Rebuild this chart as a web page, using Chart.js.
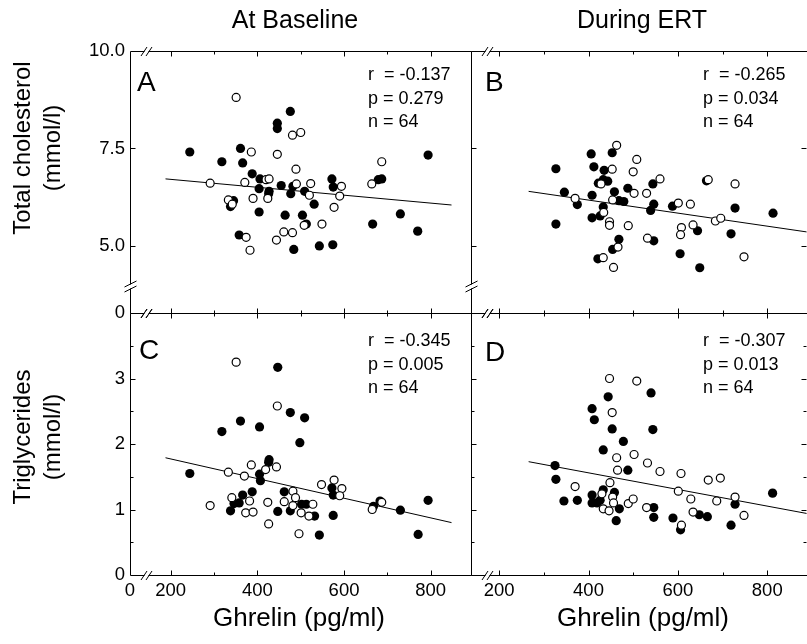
<!DOCTYPE html>
<html>
<head>
<meta charset="utf-8">
<script src="https://cdn.jsdelivr.net/npm/chart.js@4.4.1/dist/chart.umd.min.js"></script>
<style>
body { margin: 0; background: #fff; }
#wrap { position: relative; width: 807px; height: 644px; overflow: hidden;
        font-family: 'Liberation Sans', Arial, sans-serif; color: #000; }
canvas { position: absolute; left: 0; top: 0; }
.t { position: absolute; white-space: pre; line-height: 1; }
.head { font-size: 25px; width: 240px; text-align: center; }
.xtitle { font-size: 26px; width: 240px; text-align: center; }
.ytitle { font-size: 24px; width: 300px; height: 60px; line-height: 30px; text-align: center;
          transform: rotate(-90deg); transform-origin: 150px 30px; }
.stat { font-size: 18px; line-height: 23.5px; }
.letter { font-size: 28px; }
</style>
</head>
<body>
<div id="wrap">
  <canvas id="pA" width="807" height="644"></canvas>
  <canvas id="pB" width="807" height="644"></canvas>
  <canvas id="pC" width="807" height="644"></canvas>
  <canvas id="pD" width="807" height="644"></canvas>

  <div class="t head" style="left:175px; top:7px;">At Baseline</div>
  <div class="t head" style="left:522px; top:7px;">During ERT</div>
  <div class="t xtitle" style="left:179px; top:604px;">Ghrelin (pg/ml)</div>
  <div class="t xtitle" style="left:523px; top:604px;">Ghrelin (pg/ml)</div>
  <div class="t ytitle" style="left:-113px; top:118px;">Total cholesterol<br>(mmol/l)</div>
  <div class="t ytitle" style="left:-113px; top:407px;">Triglycerides<br>(mmol/l)</div>

  <div class="t letter" style="left:137px; top:68px;">A</div>
  <div class="t letter" style="left:485px; top:68px;">B</div>
  <div class="t letter" style="left:139px; top:336px;">C</div>
  <div class="t letter" style="left:485px; top:338px;">D</div>

  <div class="t stat" style="left:368px; top:63px;">r  = -0.137
p = 0.279
n = 64</div>
  <div class="t stat" style="left:703px; top:63px;">r  = -0.265
p = 0.034
n = 64</div>
  <div class="t stat" style="left:368px; top:329px;">r  = -0.345
p = 0.005
n = 64</div>
  <div class="t stat" style="left:703px; top:329px;">r  = -0.307
p = 0.013
n = 64</div>
</div>
<script>
// ghrelin (x) vs lipid (y); filled / open symbols, plus regression line ends
var cholBaseFilled = [[476,8.45],[446,8.15],[446,8.01],[244,7.41],[361,7.50],[318,7.16],[366,7.13],[794,7.33],
  [388,6.85],[406,6.72],[455,6.55],[482,6.53],[572,6.72],[575,6.51],[679,6.70],[687,6.72],[404,6.47],[427,6.40],
  [509,6.40],[477,6.34],[345,6.16],[338,6.01],[426,6.34],[531,6.07],[404,5.87],[464,5.79],[504,5.79],[513,5.56],
  [666,5.56],[730,5.82],[770,5.38],[358,5.28],[484,4.91],[543,5.00],[574,5.03]];
var cholBaseOpen = [[351,8.81],[481,7.84],[500,7.91],[386,7.41],[446,7.35],[687,7.16],[489,6.97],[420,6.70],
  [427,6.72],[291,6.61],[371,6.63],[490,6.59],[523,6.60],[594,6.53],[664,6.59],[520,6.30],[590,6.28],[333,6.18],
  [342,6.07],[390,6.22],[424,6.22],[577,5.99],[508,5.53],[549,5.56],[374,5.22],[461,5.36],[481,5.34],[444,5.15],
  [383,4.89]];
var cholErtFilled = [[406,7.36],[453,7.39],[327,6.98],[412,7.03],[435,6.94],[433,6.70],[443,6.66],[422,6.61],
  [544,6.59],[664,6.67],[346,6.38],[408,6.30],[458,6.39],[488,6.48],[375,6.06],[468,6.16],[479,6.14],[546,6.07],
  [539,5.91],[588,6.02],[728,5.97],[813,5.84],[433,6.00],[408,5.72],[426,5.77],[327,5.56],[644,5.39],[719,5.31],
  [546,5.13],[468,5.17],[454,4.91],[605,4.80],[421,4.67],[649,4.44]];
var cholErtOpen = [[463,7.58],[508,7.22],[453,6.97],[500,6.90],[428,6.59],[560,6.72],[668,6.70],[728,6.59],
  [502,6.35],[530,6.35],[370,6.22],[454,6.18],[601,6.10],[628,6.07],[434,5.86],[447,5.62],[447,5.53],[489,5.52],
  [608,5.47],[606,5.29],[634,5.54],[684,5.64],[696,5.71],[532,5.20],[466,4.97],[748,4.72],[433,4.70],[456,4.45]];
var tgBaseFilled = [[447,3.17],[476,2.48],[509,2.40],[361,2.35],[405,2.26],[318,2.19],[498,2.02],[427,1.76],
  [426,1.72],[244,1.55],[405,1.54],[407,1.44],[572,1.33],[575,1.22],[462,1.27],[388,1.27],[366,1.22],[358,1.10],
  [346,1.09],[338,0.98],[447,0.97],[476,0.98],[502,1.08],[513,1.08],[532,0.90],[575,0.91],[543,0.61],[668,1.05],
  [683,1.13],[730,0.99],[794,1.14],[771,0.62]];
var tgBaseOpen = [[351,3.25],[446,2.58],[444,1.65],[419,1.61],[386,1.68],[333,1.57],[370,1.51],[548,1.38],
  [577,1.45],[595,1.32],[590,1.21],[482,1.28],[488,1.18],[462,1.12],[482,1.06],[341,1.18],[382,1.13],[424,1.11],
  [291,1.06],[373,0.95],[390,0.96],[528,1.08],[501,0.95],[519,0.90],[426,0.78],[496,0.63],[665,1.00],[687,1.11]];
var tgErtFilled = [[540,2.78],[444,2.72],[408,2.54],[413,2.37],[453,2.23],[544,2.22],[478,2.04],[433,1.91],
  [325,1.67],[488,1.60],[327,1.46],[812,1.25],[728,1.08],[433,1.30],[458,1.26],[408,1.22],[408,1.10],[419,1.10],
  [426,1.14],[345,1.13],[375,1.14],[469,1.01],[546,1.03],[462,0.83],[546,0.88],[589,0.87],[648,0.92],[666,0.89],
  [719,0.76],[606,0.69]];
var tgErtOpen = [[447,3.00],[508,2.96],[453,2.48],[463,1.79],[502,1.84],[532,1.71],[465,1.60],[560,1.58],
  [607,1.55],[448,1.41],[668,1.45],[695,1.48],[370,1.35],[601,1.28],[629,1.16],[687,1.13],[728,1.19],[430,1.24],
  [454,1.19],[456,1.10],[489,1.09],[500,1.16],[433,1.01],[446,0.98],[530,1.03],[634,0.96],[748,0.91],[608,0.76]];
var cholBaseFit = [[188,6.72],[848,6.05]];
var cholErtFit = [[266,6.40],[888,5.36]];
var tgBaseFit = [[188,1.79],[848,0.80]];
var tgErtFit = [[266,1.73],[888,0.94]];

var xLabels = [200, 400, 600, 800];
var cholTicks = [5, 7.5, 10];
var tgTicks = [0, 1, 2, 3];

var W = 807, H = 644;
var FONT = "'Liberation Sans', Arial, sans-serif";

function pts(list) {
	return list.map(function (p) { return {x: p[0], y: p[1]}; });
}

function breakOnH(ctx, cx, cy) {
	ctx.fillStyle = '#fff';
	ctx.fillRect(cx - 2, cy - 2, 4, 4);
	ctx.beginPath();
	[-2.5, 2.5].forEach(function (d) {
		ctx.moveTo(cx + d - 3, cy + 4.5);
		ctx.lineTo(cx + d + 3, cy - 4.5);
	});
	ctx.stroke();
}

function breakOnV(ctx, cx, cy) {
	ctx.fillStyle = '#fff';
	ctx.fillRect(cx - 2, cy - 2, 4, 4);
	ctx.beginPath();
	[-2.5, 2.5].forEach(function (d) {
		ctx.moveTo(cx - 6, cy + d + 3);
		ctx.lineTo(cx + 6, cy + d - 3);
	});
	ctx.stroke();
}

// frame, inward ticks and axis breaks
var frame = {
	id: 'frame',
	beforeDatasetsDraw: function (chart, args, o) {
		var ctx = chart.ctx, a = chart.chartArea, x = chart.scales.x, y = chart.scales.y;
		var L = Math.round(a.left) + 0.5, R = Math.round(a.right) + 0.5;
		var T = Math.round(a.top) + 0.5, B = Math.round(a.bottom) + 0.5;
		ctx.save();
		ctx.strokeStyle = '#000';
		ctx.lineWidth = 1;
		ctx.beginPath();
		ctx.rect(L, T, R - L, B - T);
		for (var v = 100; v <= x.max; v += 100) {
			if (v <= x.min) continue;
			var px = Math.round(x.getPixelForValue(v)) + 0.5;
			var len = v % 200 === 0 ? 5 : 3;
			ctx.moveTo(px, B); ctx.lineTo(px, B - len);
			ctx.moveTo(px, T); ctx.lineTo(px, T + len);
		}
		o.yMarks.forEach(function (m) {
			var py = Math.round(y.getPixelForValue(m[0])) + 0.5;
			ctx.moveTo(L, py); ctx.lineTo(L + m[1], py);
			if (o.rightTicks) { ctx.moveTo(R - 1, py); ctx.lineTo(R - 1 - m[1], py); }
		});
		ctx.stroke();
		ctx.restore();
	},
	afterDraw: function (chart, args, o) {
		var ctx = chart.ctx, a = chart.chartArea;
		var L = Math.round(a.left) + 0.5, T = Math.round(a.top) + 0.5, B = Math.round(a.bottom) + 0.5;
		ctx.save();
		ctx.strokeStyle = '#000';
		ctx.lineWidth = 1;
		breakOnH(ctx, L + 16, T);
		breakOnH(ctx, L + 16, B);
		if (o.yBreak) breakOnV(ctx, L, B - 27);
		ctx.restore();
	}
};

function panel(id, area, data, sc) {
	return new Chart(document.getElementById(id), {
		type: 'scatter',
		data: {
			datasets: [
				{data: pts(data.open), pointRadius: 4, pointBorderWidth: 1.2,
				 pointBackgroundColor: '#fff', pointBorderColor: '#000'},
				{data: pts(data.filled), pointRadius: 4.6, pointBorderWidth: 0,
				 pointBackgroundColor: '#000', pointBorderColor: '#000'},
				{data: pts(data.fit), showLine: true, pointRadius: 0, borderColor: '#000',
				 borderWidth: 1, fill: false}
			]
		},
		plugins: [frame],
		options: {
			responsive: false,
			animation: false,
			events: [],
			layout: {autoPadding: false, padding: {left: 0, top: area.top, right: W - area.right, bottom: 0}},
			plugins: {
				legend: {display: false},
				tooltip: {enabled: false},
				frame: {yMarks: sc.yMarks, rightTicks: sc.rightTicks, yBreak: sc.yBreak}
			},
			scales: {
				x: {
					type: 'linear', position: 'bottom', min: sc.xMin, max: sc.xMax,
					grid: {display: false, drawTicks: false}, border: {display: false},
					ticks: {display: sc.xLabels, autoSkip: false, maxRotation: 0, padding: 5, color: '#000',
						font: {family: FONT, size: 18.5},
						callback: function (v) { return v === sc.xMin ? (sc.zeroX ? '0' : '') : String(v); }},
					afterBuildTicks: function (s) {
						s.ticks = [{value: sc.xMin}].concat(xLabels.map(function (v) { return {value: v}; }));
					},
					afterFit: function (s) { s.height = H - area.bottom; }
				},
				y: {
					type: 'linear', position: 'left', min: sc.yMin, max: sc.yMax,
					grid: {display: false, drawTicks: false}, border: {display: false},
					ticks: {display: sc.yLabels, autoSkip: false, padding: 5, color: '#000',
						font: {family: FONT, size: 18.5},
						callback: sc.yFormat},
					afterBuildTicks: function (s) {
						s.ticks = sc.yTicks.map(function (v) { return {value: v}; });
					},
					afterFit: function (s) { s.width = area.left; }
				}
			}
		}
	});
}

var cholMarks = [[5, 5], [7.5, 5]];
var tgMarks = [[0.5, 3], [1, 5], [1.5, 3], [2, 5], [2.5, 3], [3, 5], [3.5, 3]];
var cholFmt = function (v) { return v < 5 ? '0' : v.toFixed(1); };
var tgFmt = function (v) { return String(v); };

panel('pA', {left: 130, top: 51, right: 471, bottom: 313},
	{open: cholBaseOpen, filled: cholBaseFilled, fit: cholBaseFit},
	{xMin: 106, xMax: 893, yMin: 3.28, yMax: 10, xLabels: false, zeroX: true, yLabels: true,
	 yTicks: [3.28].concat(cholTicks), yFormat: cholFmt, yMarks: cholMarks, rightTicks: false, yBreak: true});
panel('pB', {left: 471, top: 51, right: 807, bottom: 313},
	{open: cholErtOpen, filled: cholErtFilled, fit: cholErtFit},
	{xMin: 137, xMax: 889, yMin: 3.28, yMax: 10, xLabels: false, zeroX: false, yLabels: false,
	 yTicks: cholTicks, yFormat: cholFmt, yMarks: cholMarks, rightTicks: true, yBreak: true});
panel('pC', {left: 130, top: 313, right: 471, bottom: 575},
	{open: tgBaseOpen, filled: tgBaseFilled, fit: tgBaseFit},
	{xMin: 106, xMax: 893, yMin: 0, yMax: 4, xLabels: true, zeroX: true, yLabels: true,
	 yTicks: tgTicks, yFormat: tgFmt, yMarks: tgMarks, rightTicks: false, yBreak: false});
panel('pD', {left: 471, top: 313, right: 807, bottom: 575},
	{open: tgErtOpen, filled: tgErtFilled, fit: tgErtFit},
	{xMin: 137, xMax: 889, yMin: 0, yMax: 4, xLabels: true, zeroX: false, yLabels: false,
	 yTicks: tgTicks, yFormat: tgFmt, yMarks: tgMarks, rightTicks: true, yBreak: false});
</script>
</body>
</html>
